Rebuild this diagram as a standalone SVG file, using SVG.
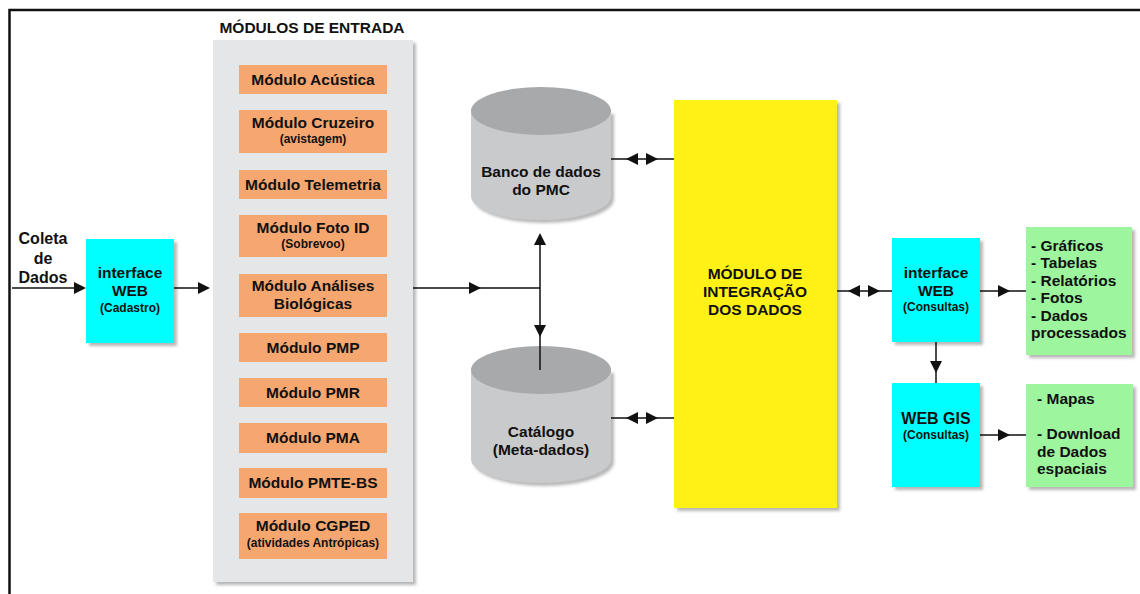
<svg xmlns="http://www.w3.org/2000/svg" width="1140" height="594" viewBox="0 0 1140 594">
<defs>
<filter id="sh" x="-10%" y="-10%" width="130%" height="130%">
<feDropShadow dx="3" dy="3" stdDeviation="1.5" flood-color="#888" flood-opacity="0.6"/>
</filter>
<style>
text{font-family:"Liberation Sans",Arial,sans-serif;font-weight:bold;fill:#111;text-anchor:middle}
.t{font-size:15.5px}
.s{font-size:12px}
.l{text-anchor:start;font-size:15.5px}
.ob{fill:#f6a66f}
.cy{fill:#00ffff;filter:url(#sh)}
.gr{fill:#9df59d;filter:url(#sh)}
.ln{stroke:#111;stroke-width:1.5;fill:none}
.ah{fill:#111}
.body{fill:#c9cacc;filter:url(#sh)}
.top{fill:#a8a9ab}
</style>
</defs>
<rect width="1140" height="594" fill="#fff"/>
<path d="M9.5,594 V10 H1140" fill="none" stroke="#111" stroke-width="2.5"/>

<g id="modulos-entrada">
<text class="t" x="312" y="33">MÓDULOS DE ENTRADA</text>
<rect x="213" y="40" width="200" height="542" fill="#e5e6e8" filter="url(#sh)"/>
<g id="mod-acustica"><rect class="ob" x="239" y="65" width="148" height="29"/><text class="t" x="313" y="85">Módulo Acústica</text></g>
<g id="mod-cruzeiro"><rect class="ob" x="239" y="110" width="148" height="43"/><text class="t" x="313" y="128">Módulo Cruzeiro</text><text class="s" x="313" y="143">(avistagem)</text></g>
<g id="mod-telemetria"><rect class="ob" x="239" y="170" width="148" height="29"/><text class="t" x="313" y="190">Módulo Telemetria</text></g>
<g id="mod-foto"><rect class="ob" x="239" y="215" width="148" height="42"/><text class="t" x="313" y="233">Módulo Foto ID</text><text class="s" x="313" y="248">(Sobrevoo)</text></g>
<g id="mod-analises"><rect class="ob" x="239" y="274" width="148" height="43"/><text class="t" x="313" y="291">Módulo Análises</text><text class="t" x="313" y="309">Biológicas</text></g>
<g id="mod-pmp"><rect class="ob" x="239" y="333" width="148" height="29"/><text class="t" x="313" y="353">Módulo PMP</text></g>
<g id="mod-pmr"><rect class="ob" x="239" y="378" width="148" height="29"/><text class="t" x="313" y="398">Módulo PMR</text></g>
<g id="mod-pma"><rect class="ob" x="239" y="423" width="148" height="30"/><text class="t" x="313" y="443">Módulo PMA</text></g>
<g id="mod-pmte"><rect class="ob" x="239" y="468" width="148" height="30"/><text class="t" x="313" y="488">Módulo PMTE-BS</text></g>
<g id="mod-cgped"><rect class="ob" x="239" y="513" width="148" height="46"/><text class="t" x="313" y="531">Módulo CGPED</text><text class="s" x="313" y="547">(atividades Antrópicas)</text></g>
</g>

<g id="coleta">
<text x="43" y="244" style="font-size:16px">Coleta</text>
<text x="43" y="264" style="font-size:16px">de</text>
<text x="43" y="283" style="font-size:16px">Dados</text>
</g>

<g id="web-cadastro">
<rect class="cy" x="86" y="239" width="88" height="104"/>
<text class="t" x="130" y="278">interface</text>
<text class="t" x="130" y="296">WEB</text>
<text class="s" x="130" y="312">(Cadastro)</text>
</g>

<g id="banco">
<path class="body" d="M471,111 V196 A70,24 0 0 0 611,196 V111 Z"/>
<ellipse class="top" cx="541" cy="111" rx="70" ry="24"/>
<text class="t" x="541" y="177">Banco de dados</text>
<text class="t" x="541" y="195">do PMC</text>
</g>

<g id="catalogo">
<path class="body" d="M471,370 V459 A70,24 0 0 0 611,459 V370 Z"/>
<ellipse class="top" cx="541" cy="370" rx="70" ry="24"/>
<text class="t" x="541" y="437">Catálogo</text>
<text class="t" x="541" y="455">(Meta-dados)</text>
</g>

<g id="integracao">
<rect x="674" y="100" width="163" height="408" fill="#fff114" filter="url(#sh)"/>
<text class="t" x="755" y="279">MÓDULO DE</text>
<text class="t" x="755" y="297">INTEGRAÇÃO</text>
<text class="t" x="755" y="315">DOS DADOS</text>
</g>

<g id="web-consultas">
<rect class="cy" x="892" y="238" width="88" height="104"/>
<text class="t" x="936" y="278">interface</text>
<text class="t" x="936" y="296">WEB</text>
<text class="s" x="936" y="311">(Consultas)</text>
</g>

<g id="web-gis">
<rect class="cy" x="892" y="383" width="88" height="104"/>
<text x="936" y="424" style="font-size:16px">WEB GIS</text>
<text class="s" x="936" y="439">(Consultas)</text>
</g>

<g id="saidas">
<rect class="gr" x="1026" y="227" width="106" height="128"/>
<text class="l" x="1031" y="251">- Gráficos</text>
<text class="l" x="1031" y="268">- Tabelas</text>
<text class="l" x="1031" y="286">- Relatórios</text>
<text class="l" x="1031" y="303">- Fotos</text>
<text class="l" x="1031" y="321">- Dados</text>
<text class="l" x="1031" y="338">processados</text>
</g>

<g id="saidas-gis">
<rect class="gr" x="1026" y="384" width="107" height="103"/>
<text class="l" x="1037" y="404">- Mapas</text>
<text class="l" x="1037" y="439">- Download</text>
<text class="l" x="1037" y="457">de Dados</text>
<text class="l" x="1037" y="474">espaciais</text>
</g>

<g id="connectors">
<path class="ln" d="M12,288 H80"/>
<polygon class="ah" points="86,288 74,282 74,294"/>
<path class="ln" d="M174,288 H204"/>
<polygon class="ah" points="210,288 198,282 198,294"/>
<path class="ln" d="M413,288 H540 M540,240 V370"/>
<polygon class="ah" points="481,288 469,282 469,294"/>
<polygon class="ah" points="540,233 534,245 546,245"/>
<polygon class="ah" points="540,337 534,325 546,325"/>
<path class="ln" d="M611,159 H674 M611,418 H674 M837,291 H892"/>
<polygon class="ah" points="626,159 638,153 638,165"/>
<polygon class="ah" points="658,159 646,153 646,165"/>
<polygon class="ah" points="626,418 638,412 638,424"/>
<polygon class="ah" points="658,418 646,412 646,424"/>
<polygon class="ah" points="848,291 860,285 860,297"/>
<polygon class="ah" points="880,291 868,285 868,297"/>
<path class="ln" d="M980,291 H1026 M980,435 H1026 M936,342 V383"/>
<polygon class="ah" points="1010,291 998,285 998,297"/>
<polygon class="ah" points="1010,435 998,429 998,441"/>
<polygon class="ah" points="936,373 930,361 942,361"/>
</g>
</svg>
